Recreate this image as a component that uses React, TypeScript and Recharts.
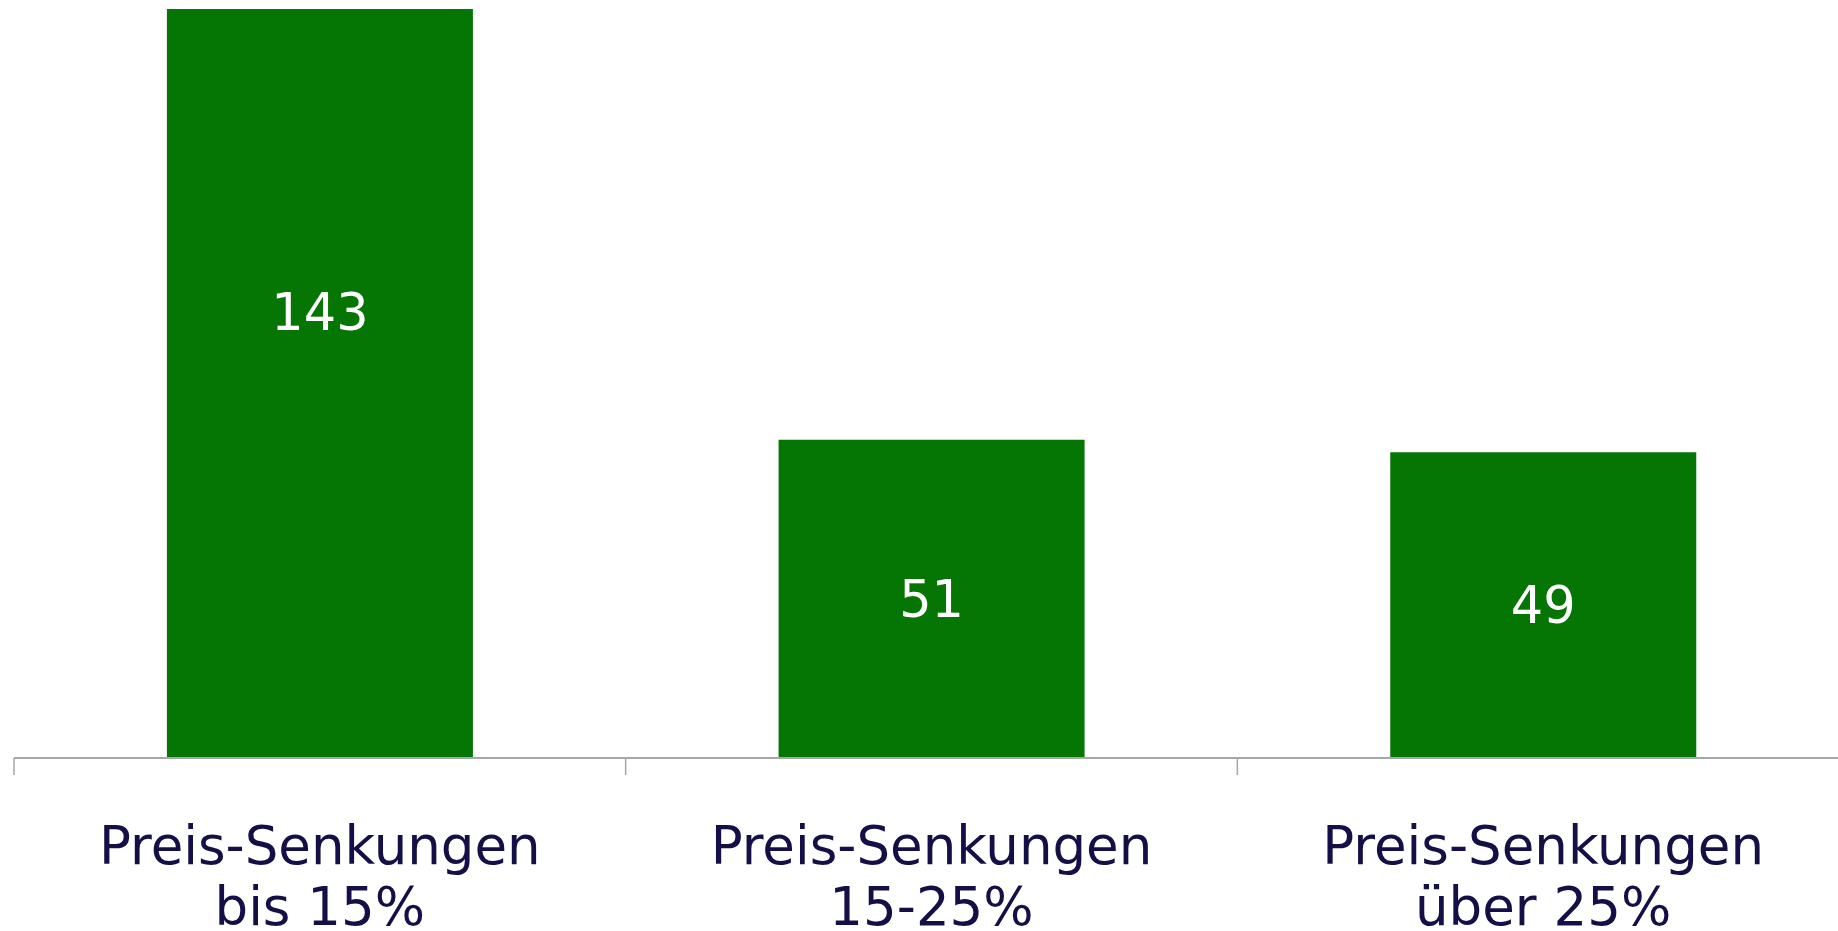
import React from 'react';
import { BarChart, Bar, XAxis, YAxis, LabelList } from 'recharts';

const labelTop = ['Preis-Senkungen', 'Preis-Senkungen', 'Preis-Senkungen'];
const labelBottom = ['bis 15%', '15-25%', 'über 25%'];
const counts = [143, 51, 49];

const data = counts.map((count, i) => ({
  name: `${labelTop[i]} ${labelBottom[i]}`,
  top: labelTop[i],
  bottom: labelBottom[i],
  count,
}));

const CategoryTick = (props: any) => {
  const { x, y, payload, index } = props;
  const row = data[index] || data.find((d) => d.name === payload.value);
  const edge = x - (payload.offset || 0);
  return (
    <g>
      <line x1={edge} y1={y} x2={edge} y2={y + 17} stroke="#a6a6a6" strokeWidth={1.5} />
      <text x={x} y={y} textAnchor="middle" fill="#140f47" fontSize={53}>
        <tspan x={x} dy={106}>{row.top}</tspan>
        <tspan x={x} dy={61}>{row.bottom}</tspan>
      </text>
    </g>
  );
};

const App: React.FC = () => {
  return (
    <div
      style={{
        position: 'fixed',
        top: 0,
        left: 0,
        width: 1838,
        height: 931,
        overflow: 'hidden',
        background: '#fff',
        fontFamily: '"DejaVu Sans", sans-serif',
      }}
    >
      <BarChart
        width={1849}
        height={931}
        data={data}
        margin={{ top: 9, right: 0, bottom: 0, left: 14 }}
        barCategoryGap="25%"
      >
        <XAxis
          dataKey="name"
          interval={0}
          height={173}
          tickLine={false}
          tickSize={0}
          tickMargin={0}
          axisLine={{ stroke: '#a6a6a6', strokeWidth: 2 }}
          tick={<CategoryTick />}
        />
        <YAxis hide domain={[0, 120]} allowDataOverflow />
        <Bar dataKey="count" fill="#057504" isAnimationActive={false}>
          <LabelList dataKey="count" position="center" fill="#ffffff" fontSize={51} />
        </Bar>
      </BarChart>
    </div>
  );
};

export default App;
